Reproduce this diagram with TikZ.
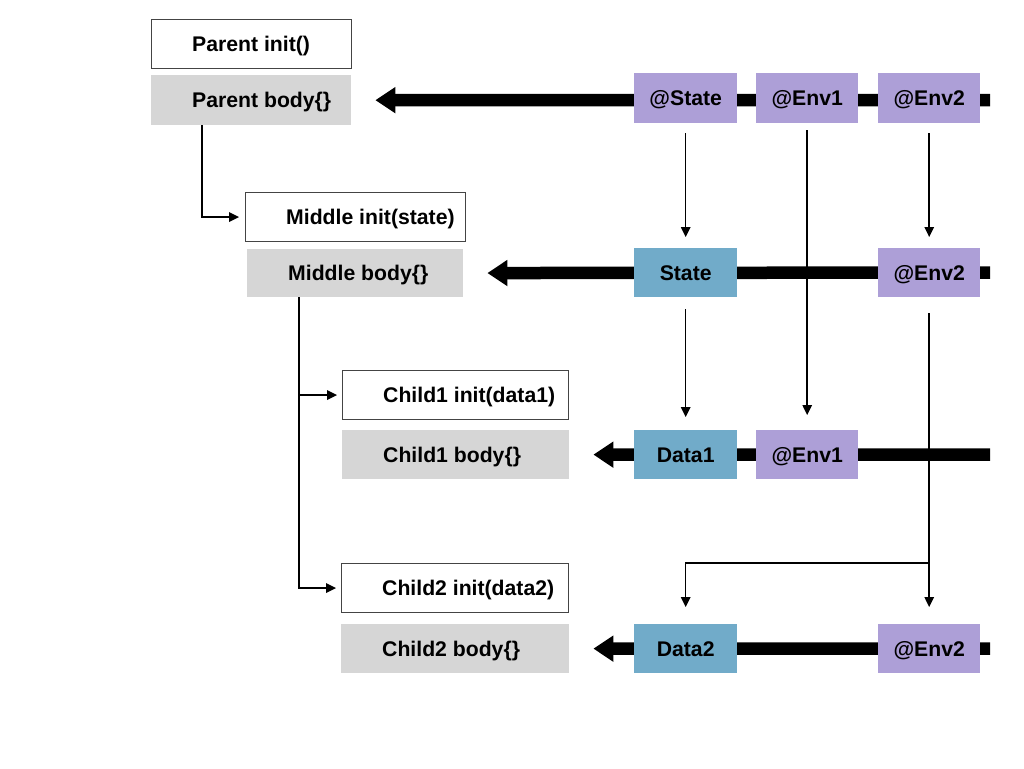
\documentclass[tikz,border=0pt]{standalone}
\usepackage{fontspec}
\setmainfont{Liberation Sans}
\usetikzlibrary{arrows.meta,backgrounds}

\definecolor{propc}{HTML}{AD9FD7}
\definecolor{datac}{HTML}{71ABC9}
\definecolor{bodyc}{HTML}{D6D6D6}
\definecolor{edgec}{HTML}{444444}

\tikzset{
  % cap height only, so the capitals sit in the middle of each box
  txt/.style={font=\fontsize{21.2}{25}\selectfont\bfseries, text height=15.2pt, text depth=0pt},
  initbox/.style={draw=edgec, line width=1.1pt, fill=white, anchor=north west,
    inner sep=0pt, minimum height=49pt},
  bodybox/.style={fill=bodyc, anchor=north west, inner sep=0pt, minimum height=49pt},
  caption/.style={anchor=west, xshift=41pt, inner sep=0pt, txt},
  propbox/.style={fill=propc, anchor=north west, inner sep=0pt,
    minimum width=102pt, minimum height=50pt, txt},
  databox/.style={fill=datac, anchor=north west, inner sep=0pt,
    minimum width=103pt, minimum height=50pt, txt},
  flow/.style={line width=12.5pt, -{Triangle[length=20pt,width=25pt]}, shorten >=24pt},
  link/.style={line width=1.5pt, -{Triangle[length=10pt,width=9.5pt]}},
}

\begin{document}
\begin{tikzpicture}[x=1pt, y=-1pt]
\useasboundingbox (0,0) rectangle (1024,768);

% component boxes: init on top, body below
\node[initbox, minimum width=200pt, label={[caption]west:{Parent init()}}] (pi) at (151,19) {};
\node[bodybox, minimum width=200pt, minimum height=50pt, label={[caption]west:{Parent body\{\}}}] (pb) at (151,75) {};
\node[initbox, minimum width=220pt, label={[caption]west:{Middle init(state)}}] (mi) at (245,192) {};
\node[bodybox, minimum width=216pt, minimum height=48pt, label={[caption]west:{Middle body\{\}}}] (mb) at (247,249) {};
\node[initbox, minimum width=226pt, label={[caption]west:{Child1 init(data1)}}] (c1i) at (342,370) {};
\node[bodybox, minimum width=227pt, label={[caption]west:{Child1 body\{\}}}] (c1b) at (342,430) {};
\node[initbox, minimum width=227pt, label={[caption]west:{Child2 init(data2)}}] (c2i) at (341,563) {};
\node[bodybox, minimum width=228pt, label={[caption]west:{Child2 body\{\}}}] (c2b) at (341,624) {};

% property wrappers and plain data
\node[propbox, minimum width=103pt] (ps) at (634,73) {@State};
\node[propbox] (pe1) at (756,73) {@Env1};
\node[propbox] (pe2) at (878,73) {@Env2};

\node[databox, minimum height=49pt] (st) at (634,248) {State};
\node[propbox, minimum height=49pt] (me2) at (878,248) {@Env2};

\node[databox, minimum height=49pt] (d1) at (634,430) {Data1};
\node[propbox, minimum height=49pt] (ce1) at (756,430) {@Env1};

\node[databox, minimum height=49pt] (d2) at (634,624) {Data2};
\node[propbox, minimum height=49pt] (de2) at (878,624) {@Env2};

% right ends of the data flows
\coordinate (r1) at (990,100);
\coordinate (r2) at (990,272.5);
\coordinate (r3) at (990,454.5);
\coordinate (r4) at (990,648.5);

\begin{scope}[on background layer]
  \draw[flow] (r1) -- (pb);
  \draw[flow] (r2) -- (mb);
  \draw[flow] (r3) -- (c1b);
  \draw[flow] (r4) -- (c2b);
\end{scope}

% values handed down the hierarchy
\draw[link, shorten <=10pt, shorten >=11pt] (ps) -- (st);
\draw[link, shorten <=10pt, shorten >=11pt] (pe2) -- (me2);
\draw[link, shorten <=7pt, shorten >=15pt] (pe1) -- (ce1);
\draw[link, shorten <=12pt, shorten >=13pt] (st) -- (d1);
\draw[link, shorten <=16pt, shorten >=17pt] (me2) -- (de2);
\coordinate (fork) at (929,563);
\draw[link, shorten >=17pt] (fork) -| (d2);

% view tree
\draw[link, shorten >=6pt] ([xshift=51pt]pb.south west) |- (mi.west);
\draw[link, shorten >=5pt] ([xshift=52pt]mb.south west) |- (c1i.west);
\draw[link, shorten >=5pt] ([xshift=52pt]mb.south west) |- (c2i.west);
\end{tikzpicture}
\end{document}
